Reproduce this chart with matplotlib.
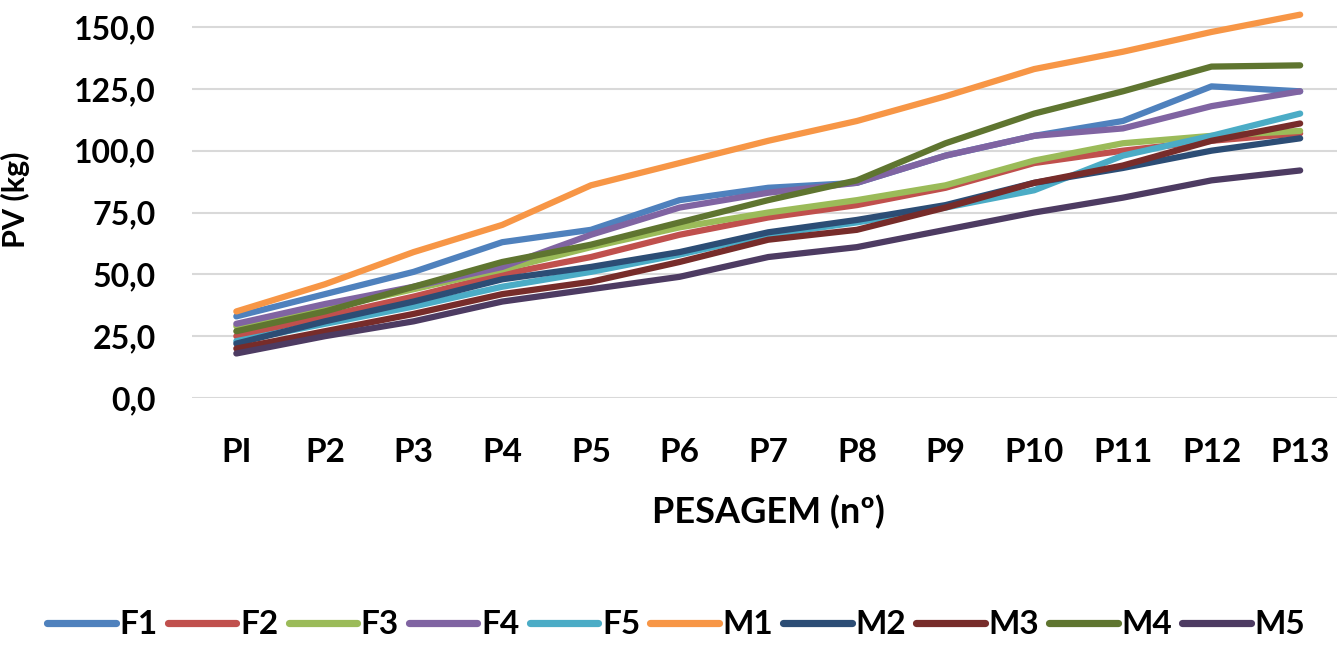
import matplotlib
matplotlib.use('Agg')
import matplotlib.pyplot as plt

# pesagens
labels = ['PI', 'P2', 'P3', 'P4', 'P5', 'P6', 'P7', 'P8', 'P9', 'P10', 'P11', 'P12', 'P13']

# PV (kg) por animal
F1 = [33, 42, 51, 63, 68, 80, 85, 87, 98, 106, 112, 126, 124]
F2 = [25, 33, 41, 50, 57, 66, 73, 78, 85, 95, 100, 104, 107]
F3 = [29, 36, 44, 52, 61, 69, 75, 80, 86, 96, 103, 106, 108]
F4 = [30, 38, 45, 53, 66, 77, 83, 87, 98, 106, 109, 118, 124]
F5 = [23, 30, 37, 45, 51, 58, 66, 71, 77, 84, 98, 106, 115]
M1 = [35, 46, 59, 70, 86, 95, 104, 112, 122, 133, 140, 148, 155]
M2 = [22, 31, 39, 48, 53, 59, 67, 72, 78, 87, 93, 100, 105]
M3 = [20, 27, 34, 42, 47, 55, 64, 68, 77, 87, 94, 104, 111]
M4 = [27, 35, 45, 55, 62, 71, 80, 88, 103, 115, 124, 134, 134.5]
M5 = [18, 25, 31, 39, 44, 49, 57, 61, 68, 75, 81, 88, 92]

series = [('F1', F1), ('F2', F2), ('F3', F3), ('F4', F4), ('F5', F5),
          ('M1', M1), ('M2', M2), ('M3', M3), ('M4', M4), ('M5', M5)]
cores = ['#4F81BD', '#C0504D', '#9BBB59', '#8064A2', '#4BACC6',
         '#F79646', '#2C4D75', '#772C2A', '#5F7530', '#4D3B62']

yticks = [0, 25, 50, 75, 100, 125, 150]

plt.rcParams['font.family'] = ['Lato', 'DejaVu Sans']

fig = plt.figure(figsize=(13.37, 6.53), dpi=100)
ax = fig.add_axes([0.1436, 0.3905, 0.862, 0.606])

x = range(len(labels))
for (nome, vals), c in zip(series, cores):
    ax.plot(x, vals, color=c, linewidth=4.5, label=nome,
            solid_capstyle='round', solid_joinstyle='round', clip_on=False)

ax.set_xlim(-0.5, 12.5)
ax.set_ylim(0, 160)
ax.set_yticks(yticks)
ax.set_yticklabels([('%.1f' % v).replace('.', ',') for v in yticks])
ax.set_xticks(list(x))
ax.set_xticklabels(labels)

ax.grid(axis='y', color='#D9D9D9', linewidth=1.5)
ax.set_axisbelow(True)
for s in ax.spines.values():
    s.set_visible(False)
ax.tick_params(axis='both', length=0)
ax.tick_params(axis='y', pad=26, labelsize=23)
ax.tick_params(axis='x', pad=29, labelsize=24)
for t in ax.get_xticklabels() + ax.get_yticklabels():
    t.set_fontweight('bold')

ax.set_xlabel('PESAGEM (nº)', fontsize=26, fontweight='bold', labelpad=20)
ax.set_ylabel('PV (kg)', fontsize=22, fontweight='bold')
ax.yaxis.set_label_coords(-0.1405, 0.5)

leg = fig.legend(loc='center', bbox_to_anchor=(0.506, 0.043), ncol=10, frameon=False,
                 fontsize=24, handlelength=2.05, handletextpad=0.12, columnspacing=0.3)
for t in leg.get_texts():
    t.set_fontweight('bold')
for ln in leg.get_lines():
    ln.set_linewidth(5.2)
    ln.set_solid_capstyle('round')

fig.savefig('out.png', dpi=100)
